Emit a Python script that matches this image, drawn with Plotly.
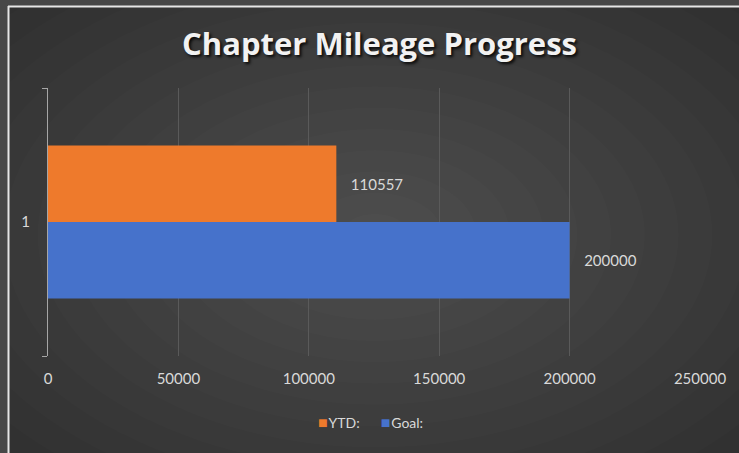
import plotly.graph_objects as go

categories = ["1"]
ytd_values = [110557]
goal_values = [200000]
series_names = ["YTD:", "Goal:"]
series_colors = ["#EE7A2C", "#4672CB"]
x_tick_vals = [0, 50000, 100000, 150000, 200000, 250000]

W, H = 739, 453
ML, MR, MT, MB = 48, 39, 88, 97
PW, PH = W - ML - MR, H - MT - MB


def px(x):
    return (x - ML) / PW


def py(y):
    return (H - MB - y) / PH


fig = go.Figure()
for name, vals, col in zip(series_names, [ytd_values, goal_values], series_colors):
    fig.add_trace(go.Bar(
        y=[1] * len(vals), x=vals, name=name, orientation="h",
        marker=dict(color=col, line=dict(width=0)),
        text=["\u00a0\u00a0\u00a0" + str(v) for v in vals], textposition="outside",
        textfont=dict(color="#D9D9D9", size=15, family="Lato"), cliponaxis=False,
        showlegend=False,
    ))

shapes = []
# radial-ish background gradient
n = 16
cx, cy = 375, 235
for i in range(n):
    f = 1 - i / n
    rx, ry = 540 * f, 340 * f
    shapes.append(dict(type="circle", xref="paper", yref="paper",
                       x0=px(cx - rx), x1=px(cx + rx), y0=py(cy + ry), y1=py(cy - ry),
                       fillcolor="rgba(255,255,255,0.0135)", line=dict(width=0), layer="below"))
# outer spreadsheet strips
shapes.append(dict(type="rect", xref="paper", yref="paper", x0=px(0), x1=px(8), y0=py(H), y1=py(0),
                   fillcolor="#474747", line=dict(width=0), layer="below"))
shapes.append(dict(type="rect", xref="paper", yref="paper", x0=px(0), x1=px(W), y0=py(6), y1=py(0),
                   fillcolor="#474747", line=dict(width=0), layer="below"))
# chart frame border
shapes.append(dict(type="line", xref="paper", yref="paper", x0=px(8.5), x1=px(8.5), y0=py(H), y1=py(6),
                   line=dict(color="#E6E6E6", width=2), layer="above"))
shapes.append(dict(type="line", xref="paper", yref="paper", x0=px(8), x1=px(W), y0=py(6.5), y1=py(6.5),
                   line=dict(color="#E6E6E6", width=2), layer="above"))

# legend drawn as text
legend_text = "\u2002\u2002\u2002".join(
    f"<span style='color:{c};font-size:16px'>■</span>\u200a{n}" for n, c in zip(series_names, series_colors))

fig.update_layout(
    width=W, height=H,
    paper_bgcolor="#2D2D2D", plot_bgcolor="rgba(0,0,0,0)",
    margin=dict(l=ML, r=MR, t=MT, b=MB, autoexpand=False),
    barmode="group", bargap=0.43, bargroupgap=0,
    title=dict(text="<b>Chapter Mileage Progress</b>", x=379.5 / W, xanchor="center",
               y=1 - 44 / H, yanchor="middle",
               font=dict(family="Open Sans", size=31, color="#F2F2F2",
                         shadow="2px 2px 3px rgba(0,0,0,0.85)")),
    font=dict(family="Lato", color="#D9D9D9", size=15),
    xaxis=dict(range=[0, 250000], tickvals=x_tick_vals, ticktext=[str(v) for v in x_tick_vals],
               showgrid=True, gridcolor="#5A5A5A", gridwidth=1, zeroline=False,
               showline=False, ticks="", ticklabelstandoff=12,
               tickfont=dict(color="#D9D9D9", size=15)),
    yaxis=dict(range=[1.5, 0.5], tickvals=[1], ticktext=categories, showgrid=False,
               zeroline=False, showline=True, linecolor="#A6A6A6", linewidth=1,
               ticks="", ticklabelstandoff=14, tickfont=dict(color="#D9D9D9", size=15),
               minor=dict(tickvals=[0.5, 1.5], ticks="outside", ticklen=5, tickcolor="#A6A6A6")),
    showlegend=False,
    annotations=[dict(text=legend_text, xref="paper", yref="paper", x=px(370), y=py(421),
                      xanchor="center", yanchor="middle", showarrow=False,
                      font=dict(family="Lato", size=14, color="#D9D9D9"))],
    shapes=shapes,
)

fig.write_html("out.html", config={"displayModeBar": False},
               post_script="document.body.style.margin='0';document.body.style.overflow='hidden';")
